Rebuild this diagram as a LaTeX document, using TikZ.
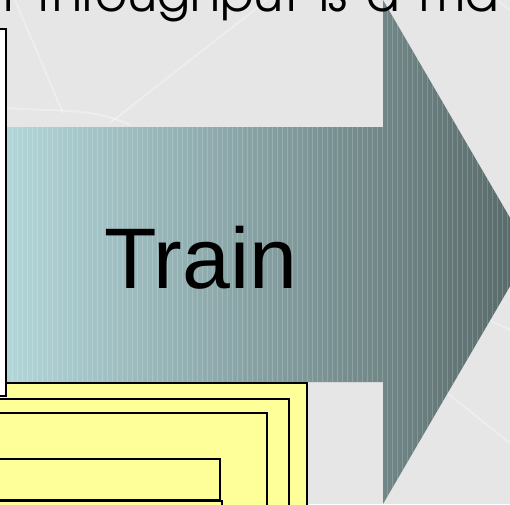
\documentclass[tikz,border=0pt]{standalone}
\usepackage{fontspec}
\setmainfont{Liberation Sans}
\newfontfamily\titlefont[WordSpace=1.4]{TeX Gyre Adventor}
\definecolor{slidegrey}{HTML}{E6E6E6}
\definecolor{padyellow}{HTML}{FFFF99}
\definecolor{tealL}{HTML}{B2D6D9}
\definecolor{tealM}{HTML}{8CA8AA}
\definecolor{tealD}{HTML}{576767}
\begin{document}
\begin{tikzpicture}[x=1pt, y=-1pt,
  pad/.style={fill=padyellow, draw=black, line width=1.8pt},
  glint/.style={white, opacity=0.3, line width=2pt},
  stripe/.style={white, opacity=0.18, line width=0.6pt}]
  \useasboundingbox (0,0) rectangle (510,504);
  \clip (0,0) rectangle (510,504);
  \fill[slidegrey] (0,0) rectangle (510,504);

  % faint background lines
  \draw[glint] (15,0) -- (63,113);
  \draw[glint] (110,123) -- (267,0);
  \draw[glint] (7,108) .. controls (50,112) and (90,106) .. (130,125);
  \draw[glint] (447,393) -- (510,443);
  \draw[glint] (483,317) -- (510,330);
  \draw[glint] (497,0) -- (510,10);

  % arrow
  \shade[left color=tealL, middle color=tealM, right color=tealD]
    (7,127) -- (383,127) -- (383,0) -- (530,252) -- (383,504) -- (383,382) -- (7,382) -- cycle;
  \begin{scope}
    \clip (7,127) -- (383,127) -- (383,0) -- (530,252) -- (383,504) -- (383,382) -- (7,382) -- cycle;
    \foreach \x in {12,17,...,510}
      \draw[stripe] (\x,0) -- (\x,504);
  \end{scope}
  \node[font=\fontsize{86}{90}\selectfont, anchor=base, inner sep=0] (train) at (201,288) {Train};

  % boxes
  \draw[pad] (-10,383) rectangle (307,520);
  \draw[fill=white, draw=black, line width=1.8pt] (-10,29) rectangle (6,396);
  \draw[pad] (-10,399) rectangle (289,520);
  \draw[pad] (-10,413) rectangle (267,520);
  \draw[pad] (-10,459) rectangle (220,500);
  \draw[pad] (-10,501) rectangle (222,520);

  \node[font=\titlefont\fontsize{49}{54}\selectfont, anchor=base west, inner sep=0] (heading) at (0,11) {t throughput is a ma};
\end{tikzpicture}
\end{document}
